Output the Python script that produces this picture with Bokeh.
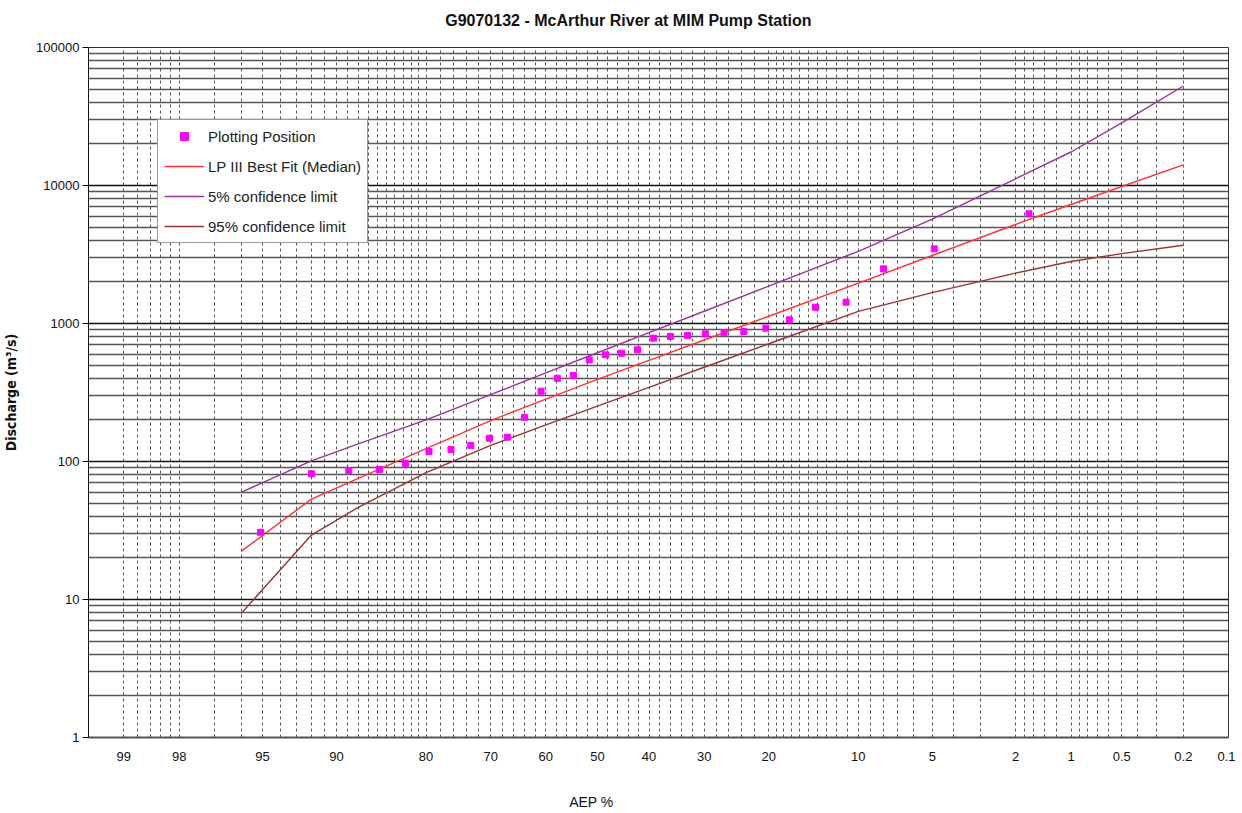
from statistics import NormalDist
from bokeh.plotting import figure
from bokeh.models import (FixedTicker, PrintfTickFormatter, Legend, LegendItem,
                          Range1d, LinearAxis)
from bokeh.embed import file_html
from bokeh.resources import INLINE

# ---------------- data ----------------
title_text = "G9070132 - McArthur River at MIM Pump Station"
x_label = "AEP %"
y_label = "Discharge (m³/s)"

aep_tick_labels = ["99", "98", "95", "90", "80", "70", "60", "50", "40", "30",
                   "20", "10", "5", "2", "1", "0.5", "0.2", "0.1"]

aep_gridlines = [99, 98.8, 98.6, 98.4, 98.2, 98, 97, 96, 95, 94, 93, 92, 91, 90,
                 89, 88, 87, 86, 85, 84, 83, 82, 81, 80, 78, 76, 74, 72, 70, 68,
                 66, 64, 62, 60, 58, 56, 54, 52, 50, 48, 46, 44, 42, 40, 38, 36,
                 34, 32, 30, 28, 26, 24, 22, 20, 19, 18, 17, 16, 15, 14, 13, 12,
                 11, 10, 9, 8, 7, 6, 5, 4, 3, 2, 1.8, 1.6, 1.4, 1.2, 1, 0.9, 0.8,
                 0.7, 0.6, 0.5, 0.4, 0.3, 0.2]

q_decades = [1, 10, 100, 1000, 10000, 100000]

# plotting positions (AEP %, discharge m3/s)
aep_points = [95.1, 92.0, 88.9, 85.8, 82.7, 79.6, 76.4, 73.3, 70.2, 67.1, 64.0,
              60.9, 57.8, 54.7, 51.6, 48.4, 45.3, 42.2, 39.1, 36.0, 32.9, 29.8,
              26.7, 23.6, 20.4, 17.3, 14.2, 11.1, 8.0, 4.9, 1.7]
q_points = [30.7, 81.5, 86, 87.5, 97, 118, 122, 131, 147.5, 150, 209,
            323, 401, 420, 545, 593, 609, 645, 783, 805, 819, 842,
            857, 875, 925, 1064, 1312, 1427, 2489, 3475, 6235]

# fitted curves
aep_curve = [96, 92, 88, 80, 70, 60, 50, 40, 30, 20, 10, 5, 2, 1, 0.5, 0.2]
q_median = [22.3, 53.4, 75.4, 124, 198, 283, 394, 541, 759, 1129, 1963, 3111,
            5214, 7280, 9836, 14120]
q_upper5 = [59.8, 101, 134, 200, 305, 439, 614, 858, 1227, 1867, 3336, 5710,
            11190, 17490, 28460, 52600]
q_lower95 = [7.9, 29.3, 46.5, 83, 131, 184, 252, 344, 482, 713, 1225, 1675,
             2316, 2813, 3208, 3689]

# ---------------- probability scale ----------------
nd = NormalDist()


def zq(p):
    return round(nd.inv_cdf(1 - p / 100.0), 6)


FONT = "Liberation Sans"

p = figure(width=1242, height=813, x_range=Range1d(-2.5, 3.1),
           y_range=Range1d(1, 100000), y_axis_type="log",
           output_backend="svg", toolbar_location=None,
           min_border_left=88, min_border_right=14, min_border_top=47,
           min_border_bottom=76)
p.background_fill_color = "white"
p.border_fill_color = "white"
p.outline_line_color = "#333333"
p.outline_line_width = 1

xa = p.below[0]   # the main (probability) x axis
ya = p.left[0]    # the main (log) y axis

# x axis
tick_z = [zq(float(s)) for s in aep_tick_labels]
xa.ticker = FixedTicker(ticks=tick_z, minor_ticks=[])
xa.major_label_overrides = {z: s for z, s in zip(tick_z, aep_tick_labels)}
xa.major_tick_in = 0
xa.major_tick_out = 0
xa.minor_tick_in = 0
xa.minor_tick_out = 0
xa.major_label_standoff = 14
xa.major_label_text_font = FONT
xa.major_label_text_font_size = "13px"
xa.major_label_text_color = "#111111"
xa.axis_line_color = "#555555"
xa.axis_line_width = 2

# x grid (dashed)
p.xgrid.ticker = FixedTicker(ticks=[zq(g) for g in aep_gridlines], minor_ticks=[])
p.xgrid.grid_line_color = "#555555"
p.xgrid.grid_line_dash = "3 3"
p.xgrid.grid_line_width = 1

# y axis
minor_q = [m * d for d in q_decades[:-1] for m in range(2, 10)]
yt = FixedTicker(ticks=q_decades, minor_ticks=minor_q)
ya.ticker = yt
ya.formatter = PrintfTickFormatter(format="%d")
ya.major_tick_in = 0
ya.major_tick_out = 6
ya.minor_tick_in = 0
ya.minor_tick_out = 0
ya.major_label_standoff = 3
ya.major_label_text_font = FONT
ya.major_label_text_font_size = "13px"
ya.major_label_text_color = "#111111"
ya.axis_line_color = "#111111"
ya.axis_label = y_label
ya.axis_label_text_font = "Liberation Sans Narrow, DejaVu Sans Condensed, sans-serif"
ya.axis_label_text_font_size = "14px"
ya.axis_label_text_font_style = "bold"
ya.axis_label_text_color = "#111111"
ya.axis_label_standoff = 14

p.ygrid.ticker = yt
p.ygrid.grid_line_color = "#111111"
p.ygrid.grid_line_width = 1.3
p.ygrid.minor_grid_line_color = "#555555"
p.ygrid.minor_grid_line_width = 1.3


def caption_axis(text, at, standoff, size, style):
    ax = LinearAxis(ticker=FixedTicker(ticks=[at], minor_ticks=[]))
    ax.major_label_overrides = {at: text}
    ax.axis_line_color = None
    ax.major_tick_in = 0
    ax.major_tick_out = 0
    ax.minor_tick_in = 0
    ax.minor_tick_out = 0
    ax.major_label_standoff = standoff
    ax.major_label_text_font = FONT
    ax.major_label_text_font_size = size
    ax.major_label_text_font_style = style
    ax.major_label_text_color = "#111111"
    return ax


# chart title (above the frame) and x-axis caption (below the tick labels)
p.add_layout(caption_axis(title_text, 0.152, 19, "16px", "bold"), "above")
p.add_layout(caption_axis(x_label, -0.03, 30, "14px", "normal"), "below")

# glyphs
zc = [zq(a) for a in aep_curve]
r_med = p.line(zc, q_median, line_color="#FF3333", line_width=1.4)
r_up = p.line(zc, q_upper5, line_color="#993399", line_width=1.4)
r_lo = p.line(zc, q_lower95, line_color="#993333", line_width=1.4)
r_pts = p.scatter([zq(a) for a in aep_points], q_points, marker="square",
                  size=6, fill_color="#FF00FF", line_color="#FF00FF")

legend = Legend(items=[
    LegendItem(label="Plotting Position", renderers=[r_pts]),
    LegendItem(label="LP III Best Fit (Median)", renderers=[r_med]),
    LegendItem(label="5% confidence limit", renderers=[r_up]),
    LegendItem(label="95% confidence limit", renderers=[r_lo]),
], location=(69, 494))
legend.label_text_font = FONT
legend.label_text_font_size = "15px"
legend.label_text_color = "#222222"
legend.padding = 6
legend.spacing = 10
legend.margin = 0
legend.glyph_height = 20
legend.glyph_width = 40
legend.label_height = 20
legend.label_standoff = 4
legend.border_line_color = "#333333"
legend.border_line_width = 1.5
legend.background_fill_color = "white"
legend.background_fill_alpha = 1.0
p.add_layout(legend)

open("out.html", "w").write(file_html(p, INLINE))
